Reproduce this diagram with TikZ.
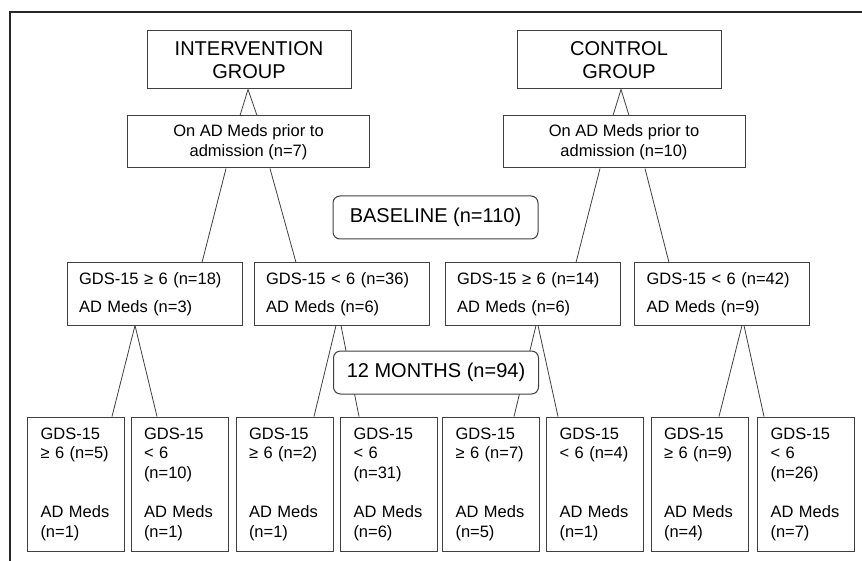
\documentclass[tikz,border=0pt]{standalone}
\usepackage{fontspec}
\setmainfont{Liberation Sans}

\begin{document}
\begin{tikzpicture}[x=1pt,y=-1pt,
    box/.style={draw=black!75,line width=1pt,rectangle,inner sep=0pt},
    groupbox/.style={box,minimum width=204pt,minimum height=58pt,align=center,font=\fontsize{20}{23}\selectfont},
    medsbox/.style={box,minimum width=242pt,minimum height=52pt,align=center,font=\fontsize{16.5}{19.5}\selectfont},
    gdsbox/.style={box,text width=151pt,inner xsep=12pt,minimum height=62pt,align=left,font=\fontsize{16.5}{28}\selectfont},
    leafbox/.style={box,text width=71pt,inner xsep=13pt,minimum height=134pt,align=left,font=\fontsize{16.5}{19.6}\selectfont},
    timebox/.style={box,fill=white,rounded corners=7pt,minimum width=205pt,minimum height=43pt,font=\fontsize{20}{23}\selectfont},
    link/.style={draw=black!75,line width=0.8pt}]
    \useasboundingbox (0,0) rectangle (862,561);
    \draw[line width=2pt,black!85] (10,561) -- (10,12) -- (862,12);
    \node[groupbox] (ig) at (249,60) {INTERVENTION\\GROUP};
    \node[groupbox] (cg) at (619,60) {CONTROL\\GROUP};
    \node[medsbox] (ia) at (248.5,142) {On AD Meds prior to\\admission (n=7)};
    \node[medsbox] (ca) at (624,142) {On AD Meds prior to\\admission (n=10)};
    \node[gdsbox] (b1) at (154.5,294) {GDS-15 ≥ 6 (n=18)\\AD Meds (n=3)};
    \node[gdsbox] (b2) at (341.5,294) {GDS-15 < 6 (n=36)\\AD Meds (n=6)};
    \node[gdsbox] (b3) at (532.5,294) {GDS-15 ≥ 6 (n=14)\\AD Meds (n=6)};
    \node[gdsbox] (b4) at (722,294) {GDS-15 < 6 (n=42)\\AD Meds (n=9)};
    \foreach \nm/\cx/\txt in {
        c1/76/{GDS-15\\≥ 6 (n=5)\\[39.2pt]AD Meds\\(n=1)},
        c2/179.5/{GDS-15\\< 6\\(n=10)\\[19.6pt]AD Meds\\(n=1)},
        c3/284.5/{GDS-15\\≥ 6 (n=2)\\[39.2pt]AD Meds\\(n=1)},
        c4/389/{GDS-15\\< 6\\(n=31)\\[19.6pt]AD Meds\\(n=6)},
        c5/491/{GDS-15\\≥ 6 (n=7)\\[39.2pt]AD Meds\\(n=5)},
        c6/595/{GDS-15\\< 6 (n=4)\\[39.2pt]AD Meds\\(n=1)},
        c7/699.5/{GDS-15\\≥ 6 (n=9)\\[39.2pt]AD Meds\\(n=4)},
        c8/806/{GDS-15\\< 6\\(n=26)\\[19.6pt]AD Meds\\(n=7)}} {
      \node[leafbox] (\nm) at (\cx,484) {\txt};
    }
    \foreach \a/\da/\b/\db in {
        ig/-1/ia/-8.5, ig/-1/ia/8.5, cg/2/ca/-11, cg/2/ca/5,
        ia/-22.5/b1/47.5, ia/21.5/b2/-45.5, ca/-24/b3/43.5, ca/21/b4/-53,
        b1/-19.5/c1/36, b1/-19.5/c2/-22.5, b2/-5.5/c3/29.5, b2/-0.5/c4/-30,
        b3/3.5/c5/23, b3/5.5/c6/-37, b4/20/c7/19.5, b4/22/c8/-42} {
      \draw[link] ([xshift=\da pt]\a.south) -- ([xshift=\db pt]\b.north);
    }
    \node[timebox] (base) at (435.5,217.5) {BASELINE (n=110)};
    \node[timebox] (month) at (436,372.5) {12 MONTHS (n=94)};
  \end{tikzpicture}
\end{document}
